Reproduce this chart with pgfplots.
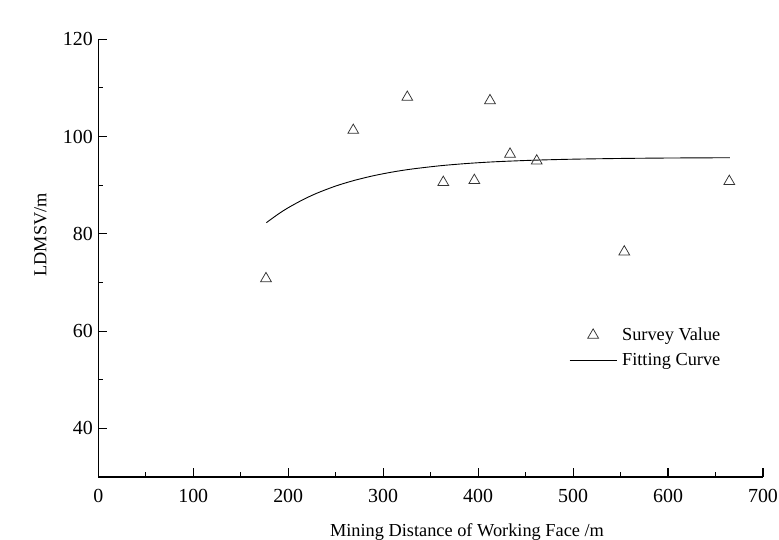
\documentclass[border=0pt]{standalone}
\usepackage{fontspec}
\setmainfont{Liberation Serif}
\usepackage{pgfplots}
\pgfplotsset{compat=1.18}
\pgfplotsset{
  marklegend/.style={legend image code/.code={\draw[mark repeat=2,mark phase=2,##1] plot coordinates {(0bp,0bp) (23.5bp,0bp) (47bp,0bp)};}},
  linelegend/.style={legend image code/.code={\draw[##1] (0bp,0bp) -- (47bp,0bp);}},
}
\begin{document}
\begin{tikzpicture}
\begin{axis}[
  at={(0,0)}, anchor=south west,
  scale only axis,
  width=664.7bp, height=437.7bp,
  xmin=0, xmax=700, ymin=30, ymax=120,
  axis lines*=left,
  axis line style={line width=1.3bp, black},
  xtick={0,100,...,700},
  ytick={40,60,80,100,120},
  minor x tick num=1,
  minor y tick num=1,
  tick align=inside,
  major tick length=9bp,
  minor tick length=5bp,
  tickwidth=9bp, subtickwidth=5bp,
  every tick/.style={black, line width=1.1bp},
  /pgf/number format/assume math mode=true,
  tick label style={font=\fontsize{20}{24}\selectfont},
  xticklabel style={yshift=-9bp},
  yticklabel style={xshift=-2bp},
  xlabel={Mining Distance of Working Face /m},
  ylabel={LDMSV/m},
  xlabel style={at={(axis description cs:0.5547,-0.1348)}, anchor=base, font=\fontsize{18.4}{22}\selectfont},
  ylabel style={at={(axis description cs:-0.087,0.553)}, anchor=center, font=\fontsize{18.4}{22}\selectfont},
  legend cell align=left,
  legend style={draw=none, fill=none, at={(axis cs:495.7,61.1)}, anchor=north west,
    inner xsep=0pt, inner ysep=0pt, row sep=7.5bp, column sep=3bp,
    font=\fontsize{18.4}{22}\selectfont},
]
\addplot[only marks, mark=triangle, mark size=6.2bp, mark options={draw=black!80, line width=0.75bp}, marklegend]
  coordinates {
  (176.6,70.8) (268.5,101.3) (325.4,108.1) (363.3,90.6) (396.0,91.0)
  (412.5,107.4) (433.6,96.4) (461.7,95.0) (553.9,76.3) (664.5,90.8)
  };
\addlegendentry{Survey Value}
\addplot[black, line width=0.9bp, smooth, no marks, linelegend]
  coordinates {
  (177,82.3) (190,84.13) (200,85.37) (215,86.97) (230,88.34) (250,89.83)
  (270,91.01) (290,91.96) (310,92.72) (330,93.32) (360,94.00) (390,94.49)
  (420,94.84) (460,95.15) (500,95.35) (550,95.50) (600,95.59) (665,95.65)
  };
\addlegendentry{Fitting Curve}
\end{axis}
\pgfresetboundingbox
\path (-98.3bp,-63bp) rectangle (680.7bp,477bp);
\end{tikzpicture}
\end{document}
